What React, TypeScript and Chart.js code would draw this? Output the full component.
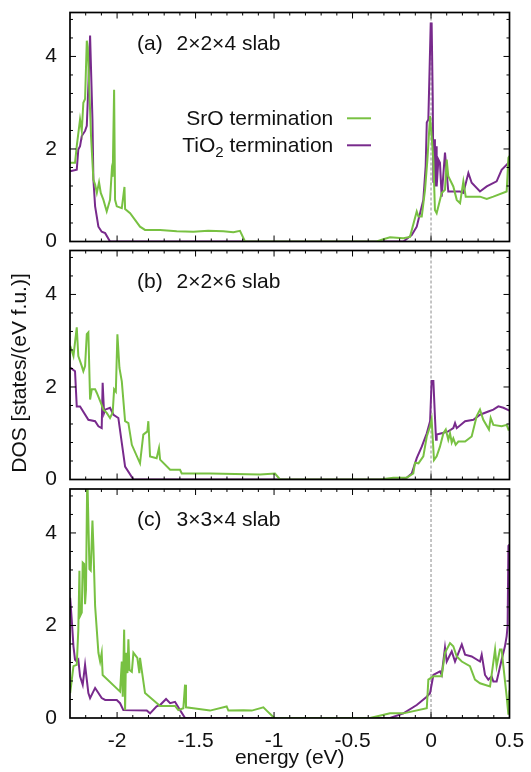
import React, { useEffect, useRef } from 'react';
import { Chart, registerables } from 'chart.js';

Chart.register(...registerables);

// ---------------- data ----------------
const xTickValues = [-2, -1.5, -1, -0.5, 0, 0.5];
const yTickValues = [0, 2, 4];
const panelTags = ['(a)', '(b)', '(c)'];
const slabSizes = ['2×2×4 slab', '2×2×6 slab', '3×3×4 slab'];
const xAxisTitle = 'energy (eV)';
const yAxisTitle = 'DOS [states/(eV f.u.)]';
const legendSrO = 'SrO termination';
const legendTiO2Base = 'TiO';
const legendTiO2Sub = '2';
const legendTiO2Rest = ' termination';

// panel (a) 2x2x4, SrO termination
const aSrOEnergy = [-2.299, -2.268, -2.257, -2.236, -2.225, -2.215, -2.204, -2.193, -2.187, -2.166, -2.151, -2.14, -2.129, -2.115, -2.104, -2.087, -2.066, -2.045, -2.034, -2.028, -2.019, -2.013, -2.002, -1.97, -1.953, -1.949, -1.917, -1.854, -1.822, -1.726, -1.62, -1.514, -1.42, -1.323, -1.259, -1.217, -1.185,
  -0.346, -0.304, -0.261, -0.176, -0.134, -0.091, -0.08, -0.059, -0.038, -0.023, -0.006, 0.015, 0.025, 0.036, 0.068, 0.089, 0.1, 0.11, 0.142, 0.164, 0.185, 0.206, 0.221, 0.312, 0.355, 0.397, 0.482, 0.493, 0.5];
const aSrODos = [1.7, 1.7, 2.06, 2.64, 2.39, 3.0, 3.08, 4.34, 4.2, 2.28, 1.34, 1.23, 1.05, 1.28, 1.05, 0.9, 0.65, 0.9, 1.52, 1.4, 3.28, 0.9, 0.76, 0.72, 1.18, 0.7, 0.61, 0.32, 0.25, 0.25, 0.22, 0.21, 0.23, 0.22, 0.2, 0.23, 0.0,
  0.0, 0.05, 0.09, 0.07, 0.1, 0.65, 0.54, 0.54, 1.12, 1.77, 2.71, 1.77, 0.68, 0.61, 1.05, 1.12, 1.77, 1.41, 1.19, 0.9, 0.83, 1.3, 0.97, 0.97, 0.92, 0.97, 1.08, 1.81, 1.85];

// panel (a) 2x2x4, TiO2 termination
const aTiO2Energy = [-2.299, -2.257, -2.247, -2.236, -2.225, -2.204, -2.193, -2.183, -2.172, -2.157, -2.151, -2.14, -2.119, -2.098, -2.076, -2.045,
  -0.176, -0.123, -0.091, -0.07, -0.049, -0.034, -0.027, -0.017, -0.002, 0.004, 0.011, 0.015, 0.021, 0.025, 0.032, 0.036, 0.047, 0.057, 0.068, 0.089, 0.11, 0.142, 0.185, 0.206, 0.238, 0.259, 0.312, 0.355, 0.418, 0.45, 0.493, 0.5];
const aTiO2Dos = [1.52, 1.55, 1.99, 2.06, 2.28, 2.39, 2.5, 3.37, 4.45, 2.64, 1.34, 0.76, 0.32, 0.21, 0.18, 0.0,
  0.0, 0.14, 0.32, 0.61, 0.9, 1.63, 2.57, 2.64, 4.71, 4.71, 3.08, 1.27, 2.21, 1.19, 2.06, 1.19, 1.77, 1.7, 0.97, 1.92, 1.08, 1.08, 1.08, 1.05, 1.48, 1.27, 1.08, 1.19, 1.3, 1.55, 1.7, 1.75];

// panel (b) 2x2x6, SrO termination
const bSrOEnergy = [-2.299, -2.278, -2.257, -2.247, -2.225, -2.215, -2.204, -2.193, -2.183, -2.172, -2.161, -2.14, -2.129, -2.104, -2.087, -2.066, -2.045, -2.028, -2.019, -2.008, -1.998, -1.985, -1.97, -1.949, -1.928, -1.906, -1.854, -1.833, -1.807, -1.801, -1.79, -1.748, -1.733, -1.726, -1.662, -1.599, -1.588, -1.408, -1.089, -0.994, -0.962,
  -0.325, -0.24, -0.155, -0.113, -0.102, -0.08, -0.049, -0.027, -0.006, 0.004, 0.019, 0.036, 0.057, 0.079, 0.094, 0.11, 0.121, 0.132, 0.142, 0.157, 0.174, 0.217, 0.259, 0.291, 0.312, 0.333, 0.369, 0.38, 0.397, 0.45, 0.482, 0.493, 0.5];
const bSrODos = [2.89, 2.67, 3.29, 2.67, 2.45, 2.34, 2.45, 3.14, 3.18, 1.73, 1.95, 1.95, 1.87, 1.66, 1.51, 1.44, 1.33, 1.45, 1.95, 1.9, 3.14, 2.41, 2.12, 1.26, 1.22, 0.75, 0.35, 0.97, 1.04, 1.26, 0.5, 0.46, 0.68, 0.43, 0.21, 0.21, 0.13, 0.13, 0.11, 0.13, 0.0,
  0.0, 0.04, 0.04, 0.13, 0.36, 0.35, 0.5, 0.93, 1.15, 1.3, 0.42, 0.5, 0.71, 1.0, 1.08, 0.86, 1.0, 0.8, 0.89, 0.75, 0.82, 0.82, 0.93, 1.37, 1.51, 1.29, 1.08, 1.33, 1.18, 1.15, 1.18, 1.08, 1.1];

// panel (b) 2x2x6, TiO2 termination
const bTiO2Energy = [-2.299, -2.268, -2.257, -2.236, -2.183, -2.14, -2.119, -2.098, -2.092, -2.083, -2.076, -2.045, -2.023, -1.992, -1.97, -1.949, -1.896,
  -0.187, -0.155, -0.123, -0.091, -0.059, -0.027, -0.006, 0.004, 0.015, 0.025, 0.032, 0.036, 0.068, 0.11, 0.142, 0.153, 0.164, 0.217, 0.27, 0.312, 0.365, 0.397, 0.429, 0.461, 0.493, 0.5];
const bTiO2Dos = [2.42, 2.34, 1.58, 1.58, 1.29, 1.26, 1.15, 1.11, 2.09, 1.44, 1.51, 1.55, 1.4, 1.33, 0.79, 0.28, 0.0,
  0.0, 0.04, 0.13, 0.46, 0.71, 1.0, 1.26, 2.13, 2.13, 1.36, 0.86, 0.97, 1.0, 1.04, 1.11, 1.22, 1.11, 1.26, 1.29, 1.4, 1.47, 1.51, 1.58, 1.55, 1.5, 1.49];

// panel (c) 3x3x4, SrO termination
const cSrOEnergy = [-2.299, -2.278, -2.257, -2.247, -2.24, -2.236, -2.225, -2.219, -2.21, -2.204, -2.198, -2.19, -2.176, -2.168, -2.157, -2.151, -2.14, -2.119, -2.108, -2.098, -2.092, -1.981, -1.97, -1.964, -1.955, -1.949, -1.943, -1.934, -1.928, -1.921, -1.906, -1.896, -1.871, -1.858, -1.854, -1.822, -1.726, -1.631, -1.61, -1.578, -1.567, -1.561, -1.514, -1.408, -1.302, -1.291, -1.195, -1.142, -1.068, -1.047, -1.004, -0.994,
  -0.389, -0.261, -0.176, -0.027, -0.017, 0.015, 0.068, 0.089, 0.121, 0.142, 0.164, 0.196, 0.248, 0.28, 0.312, 0.376, 0.408, 0.418, 0.439, 0.45, 0.461, 0.482, 0.493, 0.5];
const cSrODos = [0.54, 1.12, 1.15, 1.91, 3.18, 2.2, 2.28, 3.36, 3.33, 2.46, 2.78, 5.3, 3.22, 3.19, 4.27, 3.72, 2.42, 1.41, 1.22, 1.41, 0.93, 0.57, 1.22, 0.46, 1.91, 0.17, 1.41, 0.97, 1.7, 1.04, 1.0, 1.41, 1.3, 0.97, 1.3, 0.54, 0.26, 0.26, 0.17, 0.21, 0.72, 0.23, 0.21, 0.16, 0.25, 0.16, 0.17, 0.16, 0.23, 0.16, 0.02, 0.0,
  0.0, 0.1, 0.1, 0.21, 0.83, 0.9, 0.9, 1.41, 1.62, 1.55, 1.33, 1.22, 1.12, 0.83, 0.75, 0.68, 1.48, 1.12, 1.48, 1.48, 1.12, 0.46, 0.07, 0.6];

// panel (c) 3x3x4, TiO2 termination
const cTiO2Energy = [-2.299, -2.289, -2.278, -2.268, -2.257, -2.247, -2.236, -2.219, -2.204, -2.193, -2.183, -2.172, -2.14, -2.119, -2.098, -2.076, -2.002, -1.981, -1.96, -1.811, -1.79, -1.748, -1.726, -1.688, -1.662, -1.631, -1.599, -1.567,
  -0.261, -0.176, -0.091, -0.027, -0.006, 0.015, 0.036, 0.057, 0.068, 0.089, 0.1, 0.132, 0.153, 0.196, 0.217, 0.259, 0.312, 0.323, 0.344, 0.365, 0.386, 0.397, 0.418, 0.45, 0.471, 0.482, 0.488, 0.493, 0.5];
const cTiO2Dos = [2.6, 2.13, 1.55, 1.26, 1.22, 1.26, 0.9, 0.72, 1.15, 0.83, 0.54, 0.43, 0.65, 0.54, 0.43, 0.39, 0.39, 0.32, 0.17, 0.16, 0.1, 0.25, 0.28, 0.41, 0.32, 0.35, 0.17, 0.0,
  0.0, 0.1, 0.28, 0.46, 0.54, 0.93, 0.97, 1.01, 0.93, 1.52, 1.22, 1.44, 1.22, 1.59, 1.37, 1.33, 1.22, 1.37, 0.93, 0.83, 0.9, 0.79, 0.79, 1.26, 1.55, 1.77, 1.99, 3.72, 3.75];

const srOEnergies = [aSrOEnergy, bSrOEnergy, cSrOEnergy];
const srODos = [aSrODos, bSrODos, cSrODos];
const tiO2Energies = [aTiO2Energy, bTiO2Energy, cTiO2Energy];
const tiO2Dos = [aTiO2Dos, bTiO2Dos, cTiO2Dos];

// ---------------- styling / layout ----------------
const FONT = "'Liberation Sans', Arial, Helvetica, sans-serif";
const FS = 21;
const TEXT = '#111111';
const GREEN = '#78c142';
const PURPLE = '#782a8c';
const X_MIN = -2.3;
const X_MAX = 0.5;
const Y_MAX = 4.95;
const PLOT_LEFT = 70;
const PLOT_RIGHT = 509.5;
const W = 531;

const layouts = [
  { top: 0, height: 262, padTop: 12.5, axisHeight: 20.5 },
  { top: 236, height: 258, padTop: 14.5, axisHeight: 14.5 },
  { top: 476, height: 296, padTop: 13, axisHeight: 54 },
];

function makePlugin(index: number, canvasTop: number) {
  return {
    id: 'gnuframe' + index,
    beforeDatasetsDraw(chart: any) {
      const { ctx, chartArea, scales } = chart;
      const x0 = scales.x.getPixelForValue(0);
      ctx.save();
      ctx.strokeStyle = '#8c8c8c';
      ctx.lineWidth = 1;
      ctx.setLineDash([3, 2]);
      ctx.beginPath();
      ctx.moveTo(x0, chartArea.top);
      ctx.lineTo(x0, chartArea.bottom);
      ctx.stroke();
      ctx.restore();
    },
    afterDatasetsDraw(chart: any) {
      const { ctx, chartArea, scales } = chart;
      const { left, right, top, bottom } = chartArea;
      ctx.save();
      ctx.strokeStyle = '#000';
      ctx.lineWidth = 1;
      ctx.setLineDash([]);
      ctx.beginPath();
      // x ticks (major 0.5, minor 0.1)
      for (let k = -22; k <= 4; k++) {
        const v = k / 10;
        const px = scales.x.getPixelForValue(v);
        const len = k % 5 === 0 ? 6 : 3;
        ctx.moveTo(px, bottom);
        ctx.lineTo(px, bottom - len);
        ctx.moveTo(px, top);
        ctx.lineTo(px, top + len);
      }
      // y ticks (major 2, minor 0.4)
      for (let k = 1; k * 0.4 < Y_MAX; k++) {
        const v = k * 0.4;
        const py = scales.y.getPixelForValue(v);
        const len = k % 5 === 0 ? 6 : 3;
        ctx.moveTo(left, py);
        ctx.lineTo(left + len, py);
        ctx.moveTo(right, py);
        ctx.lineTo(right - len, py);
      }
      ctx.stroke();
      ctx.lineWidth = 1.7;
      ctx.strokeRect(left, top, right - left, bottom - top);

      ctx.fillStyle = TEXT;
      ctx.font = `${FS}px ${FONT}`;
      ctx.textBaseline = 'alphabetic';
      ctx.textAlign = 'left';
      ctx.fillText(panelTags[index], 137, top + 37);
      ctx.fillText(slabSizes[index], 176.5, top + 37);

      if (index === 0) {
        const rightEdge = 333.3;
        ctx.textAlign = 'right';
        ctx.fillText(legendSrO, rightEdge, 125 - canvasTop);
        ctx.textAlign = 'left';
        const wBase = ctx.measureText(legendTiO2Base).width;
        const wRest = ctx.measureText(legendTiO2Rest).width;
        ctx.font = `${Math.round(FS * 0.72)}px ${FONT}`;
        const wSub = ctx.measureText(legendTiO2Sub).width;
        const start = rightEdge - wBase - wSub - wRest;
        const base2 = 151.5 - canvasTop;
        ctx.font = `${FS}px ${FONT}`;
        ctx.fillText(legendTiO2Base, start, base2);
        ctx.font = `${Math.round(FS * 0.72)}px ${FONT}`;
        ctx.fillText(legendTiO2Sub, start + wBase, base2 + 5);
        ctx.font = `${FS}px ${FONT}`;
        ctx.fillText(legendTiO2Rest, start + wBase + wSub, base2);
        ctx.lineWidth = 2;
        ctx.strokeStyle = GREEN;
        ctx.beginPath();
        ctx.moveTo(347, 118.3 - canvasTop);
        ctx.lineTo(371, 118.3 - canvasTop);
        ctx.stroke();
        ctx.strokeStyle = PURPLE;
        ctx.beginPath();
        ctx.moveTo(347, 145.3 - canvasTop);
        ctx.lineTo(371, 145.3 - canvasTop);
        ctx.stroke();
      }
      if (index === 1) {
        ctx.save();
        ctx.translate(20, 373 - canvasTop);
        ctx.rotate(-Math.PI / 2);
        ctx.textAlign = 'center';
        ctx.textBaseline = 'middle';
        ctx.fillText(yAxisTitle, 0, 0);
        ctx.restore();
      }
      if (index === 2) {
        ctx.textAlign = 'center';
        ctx.textBaseline = 'middle';
        ctx.fillText(xAxisTitle, (left + right) / 2, 758 - canvasTop);
      }
      ctx.restore();
    },
  };
}

function Panel({ index }: { index: number }) {
  const ref = useRef<HTMLCanvasElement>(null);
  const lay = layouts[index];
  useEffect(() => {
    const canvas = ref.current;
    if (!canvas) return;
    const toPoints = (xs: number[], ys: number[]) => xs.map((x, i) => ({ x, y: ys[i] }));
    const chart = new Chart(canvas, {
      type: 'line',
      data: {
        datasets: [
          {
            label: legendSrO,
            data: toPoints(srOEnergies[index], srODos[index]),
            borderColor: GREEN,
            borderWidth: 2,
            pointRadius: 0,
            fill: false,
            tension: 0,
          },
          {
            label: legendTiO2Base + legendTiO2Sub + legendTiO2Rest,
            data: toPoints(tiO2Energies[index], tiO2Dos[index]),
            borderColor: PURPLE,
            borderWidth: 2,
            pointRadius: 0,
            fill: false,
            tension: 0,
          },
        ],
      },
      options: {
        animation: false,
        responsive: false,
        maintainAspectRatio: false,
        events: [],
        layout: { padding: { top: lay.padTop, right: W - PLOT_RIGHT, left: 0, bottom: 0 } },
        plugins: { legend: { display: false }, tooltip: { enabled: false } },
        scales: {
          x: {
            type: 'linear',
            min: X_MIN,
            max: X_MAX,
            grid: { display: false, drawTicks: false },
            border: { display: false },
            afterBuildTicks: (s: any) => {
              s.ticks = xTickValues.map((v) => ({ value: v }));
            },
            afterFit: (s: any) => {
              s.height = lay.axisHeight;
              s.paddingLeft = 0;
              s.paddingRight = 0;
            },
            ticks: {
              display: index === 2,
              autoSkip: false,
              maxRotation: 0,
              padding: 11,
              color: TEXT,
              font: { family: FONT, size: FS },
              callback: (v: any) => String(v),
            },
          },
          y: {
            type: 'linear',
            min: 0,
            max: Y_MAX,
            grid: { display: false, drawTicks: false },
            border: { display: false },
            afterBuildTicks: (s: any) => {
              s.ticks = yTickValues.map((v) => ({ value: v }));
            },
            afterFit: (s: any) => {
              s.width = PLOT_LEFT;
              s.paddingTop = 0;
              s.paddingBottom = 0;
            },
            ticks: {
              padding: 13,
              color: TEXT,
              font: { family: FONT, size: FS },
              callback: (v: any) => String(v),
            },
          },
        },
      } as any,
      plugins: [makePlugin(index, lay.top)],
    });
    return () => chart.destroy();
  }, [index]);
  return (
    <canvas
      ref={ref}
      width={W}
      height={lay.height}
      style={{ position: 'absolute', left: 0, top: lay.top, width: W, height: lay.height, display: 'block' }}
    />
  );
}

export default function App() {
  return (
    <div style={{ position: 'absolute', left: 0, top: 0, width: W, height: 772, background: '#fff', overflow: 'hidden' }}>
      <Panel index={0} />
      <Panel index={1} />
      <Panel index={2} />
    </div>
  );
}
